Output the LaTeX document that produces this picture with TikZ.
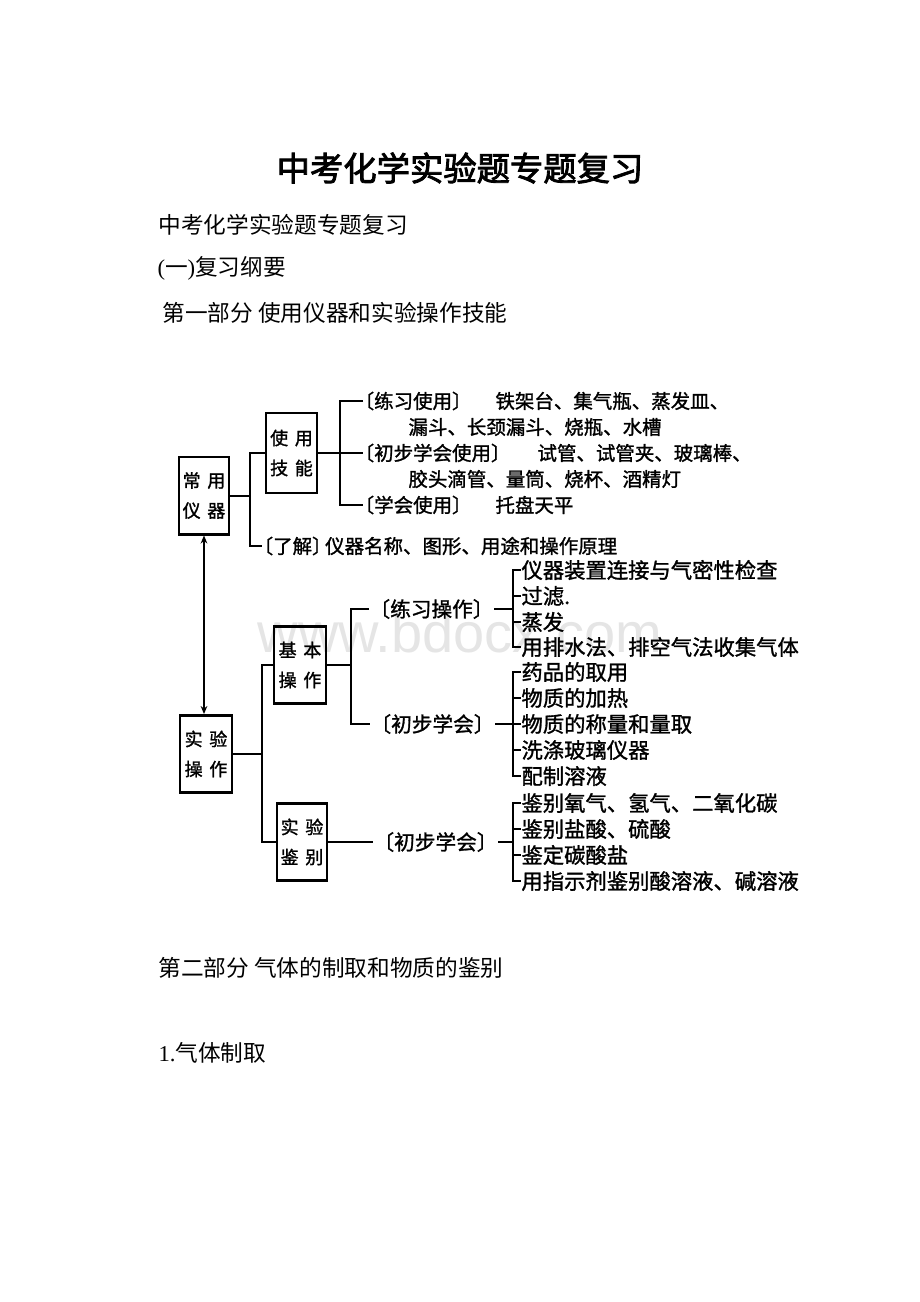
\documentclass[tikz,border=0pt]{standalone}
\usepackage{fontspec}
\setmainfont{Liberation Serif}
\newfontfamily\cjk[AutoFakeBold=2.5]{Noto Sans CJK SC}
\newfontfamily\dgm[FakeBold=1.3]{Noto Sans CJK SC}
\newfontfamily\wmfont{Liberation Sans}
\usetikzlibrary{arrows.meta}
\newcommand\lbr{\hspace{-.45em}〔}
\newcommand\rbr{〕\hspace{-.45em}}
\newcommand\pair[2]{#1\hspace{5pt}#2}
\tikzset{every picture/.style={line width=0.75pt}}

\begin{document}
\begin{tikzpicture}[x=0.75pt,y=0.75pt,yscale=-1,xscale=1,
	box/.style={draw,line width=2pt,minimum width=37.5pt,minimum height=58pt,inner sep=0pt,align=center,font=\dgm\fontsize{13.5}{22.5}\selectfont},
	conn/.style={line width=1.5pt},
	lbl/.style={anchor=west,inner sep=0pt,font=\dgm\fontsize{14.6}{16}\selectfont},
	lbltwo/.style={anchor=west,inner sep=0pt,font=\dgm\fontsize{15.5}{17}\selectfont},
	itm/.style={anchor=west,inner sep=0pt,font=\dgm\fontsize{16}{18}\selectfont},
	body/.style={anchor=west,inner sep=0pt,font=\fontsize{17}{20}\selectfont}]
	\useasboundingbox (0,0) rectangle (920,1302);

	% Watermark
	\node[text=black!10,font=\wmfont\fontsize{42}{42}\selectfont] (wm) at (460,632) {www.bdocx.com};

	% Text Node
	\node[font=\cjk\bfseries\fontsize{25}{30}\selectfont] (title) at (460,168) {中考化学实验题专题复习};
	% Text Node
	\node[body] (sub) at (158,225) {{\cjk 中考化学实验题专题复习}};
	% Text Node
	\node[body] (outline) at (157,268) {({\cjk 一}){\cjk 复习纲要}};
	% Text Node
	\node[body] (partone) at (162,313) {{\cjk 第一部分 使用仪器和实验操作技能}};
	% Text Node
	\node[body] (parttwo) at (158,968) {{\cjk 第二部分 气体的制取和物质的鉴别}};
	% Text Node
	\node[body] (gas) at (158,1053) {1.{\cjk 气体制取}};

	%Shape: Rectangle
	\node[box] (cy) at (204,495.5) {\pair{常}{用}\\\pair{仪}{器}};
	%Shape: Rectangle
	\node[box,minimum width=38.25pt,minimum height=60pt] (sy) at (291.5,453) {\pair{使}{用}\\\pair{技}{能}};
	%Shape: Rectangle
	\node[box,minimum width=39pt] (jb) at (300,665) {\pair{基}{本}\\\pair{操}{作}};
	%Shape: Rectangle
	\node[box,minimum width=39pt] (sxcz) at (206,754) {\pair{实}{验}\\\pair{操}{作}};
	%Shape: Rectangle
	\node[box] (jbie) at (302,842) {\pair{实}{验}\\\pair{鉴}{别}};

	\coordinate (j1) at (250,495.5);
	\coordinate (j2) at (340,453);
	\coordinate (j3) at (262,754);
	\coordinate (j4) at (351,665);
	\coordinate (j5) at (513,609);
	\coordinate (j6) at (513,724);
	\coordinate (j7) at (513,842);

	% Text Node
	\node[lbl] (lxa) at (363,401) {\lbr 练习使用\rbr};
	\node[lbl] (ita) at (495,401) {铁架台、集气瓶、蒸发皿、};
	\node[lbl] (itb) at (408,427) {漏斗、长颈漏斗、烧瓶、水槽};
	\node[lbl] (lxb) at (363,453) {\lbr 初步学会使用\rbr};
	\node[lbl] (itc) at (537,453) {试管、试管夹、玻璃棒、};
	\node[lbl] (itd) at (408,479) {胶头滴管、量筒、烧杯、酒精灯};
	\node[lbl] (lxc) at (363,505) {\lbr 学会使用\rbr};
	\node[lbl] (ite) at (495,505) {托盘天平};
	\node[lbl] (lj) at (262,546) {\lbr 了解\rbr\hspace{.12em}仪器名称、图形、用途和操作原理};

	% Text Node
	\node[lbltwo] (lca) at (369,609) {〔练习操作\rbr};
	\node[lbltwo] (lcb) at (370,724) {〔初步学会\rbr};
	\node[lbltwo] (lcc) at (373,842) {〔初步学会\rbr};

	% Text Node
	\node[itm] (ia) at (521,570) {仪器装置连接与气密性检查};
	\node[itm] (ib) at (521,596) {过滤.};
	\node[itm] (ic) at (521,622) {蒸发};
	\node[itm] (id) at (521,647) {用排水法、排空气法收集气体};
	\node[itm] (ka) at (521,672) {药品的取用};
	\node[itm] (kb) at (521,698) {物质的加热};
	\node[itm] (kc) at (521,724) {物质的称量和量取};
	\node[itm] (kd) at (521,750) {洗涤玻璃仪器};
	\node[itm] (ke) at (521,776) {配制溶液};
	\node[itm] (ma) at (521,803) {鉴别氧气、氢气、二氧化碳};
	\node[itm] (mb) at (521,829) {鉴别盐酸、硫酸};
	\node[itm] (mc) at (521,855) {鉴定碳酸盐};
	\node[itm] (md) at (521,881) {用指示剂鉴别酸溶液、碱溶液};

	%Straight Lines
	\draw[conn] (cy.east) -- (j1);
	\draw[conn] (sy.west) -| (j1) |- (lj.west);
	%Straight Lines
	\draw[conn] (sy.east) -- (j2);
	\draw[conn] (lxa.west) -| (j2) |- (lxc.west);
	\draw[conn] (j2) -- (lxb.west);
	%Straight Lines
	\draw[conn,{Stealth[length=6pt,width=5pt]}-{Stealth[length=6pt,width=5pt]}] (cy.south) -- (cy.south |- sxcz.north);
	%Straight Lines
	\draw[conn] (sxcz.east) -- (j3);
	\draw[conn] (jb.west) -| (j3) |- (jbie.west);
	%Straight Lines
	\draw[conn] (jb.east) -- (j4);
	\draw[conn] (lca.west) -| (j4) |- (lcb.west);
	%Straight Lines
	\draw[conn] (lca.east) -- (j5);
	\draw[conn] (ia.west) -| (j5) |- (id.west);
	\draw[conn] (j5 |- ib.west) -- (ib.west);
	\draw[conn] (j5 |- ic.west) -- (ic.west);
	%Straight Lines
	\draw[conn] (lcb.east) -- (j6);
	\draw[conn] (ka.west) -| (j6) |- (ke.west);
	\draw[conn] (j6 |- kb.west) -- (kb.west);
	\draw[conn] (j6) -- (kc.west);
	\draw[conn] (j6 |- kd.west) -- (kd.west);
	%Straight Lines
	\draw[conn] (jbie.east) -- (lcc.west);
	\draw[conn] (lcc.east) -- (j7);
	\draw[conn] (ma.west) -| (j7) |- (md.west);
	\draw[conn] (j7 |- mb.west) -- (mb.west);
	\draw[conn] (j7 |- mc.west) -- (mc.west);

\end{tikzpicture}
\end{document}
